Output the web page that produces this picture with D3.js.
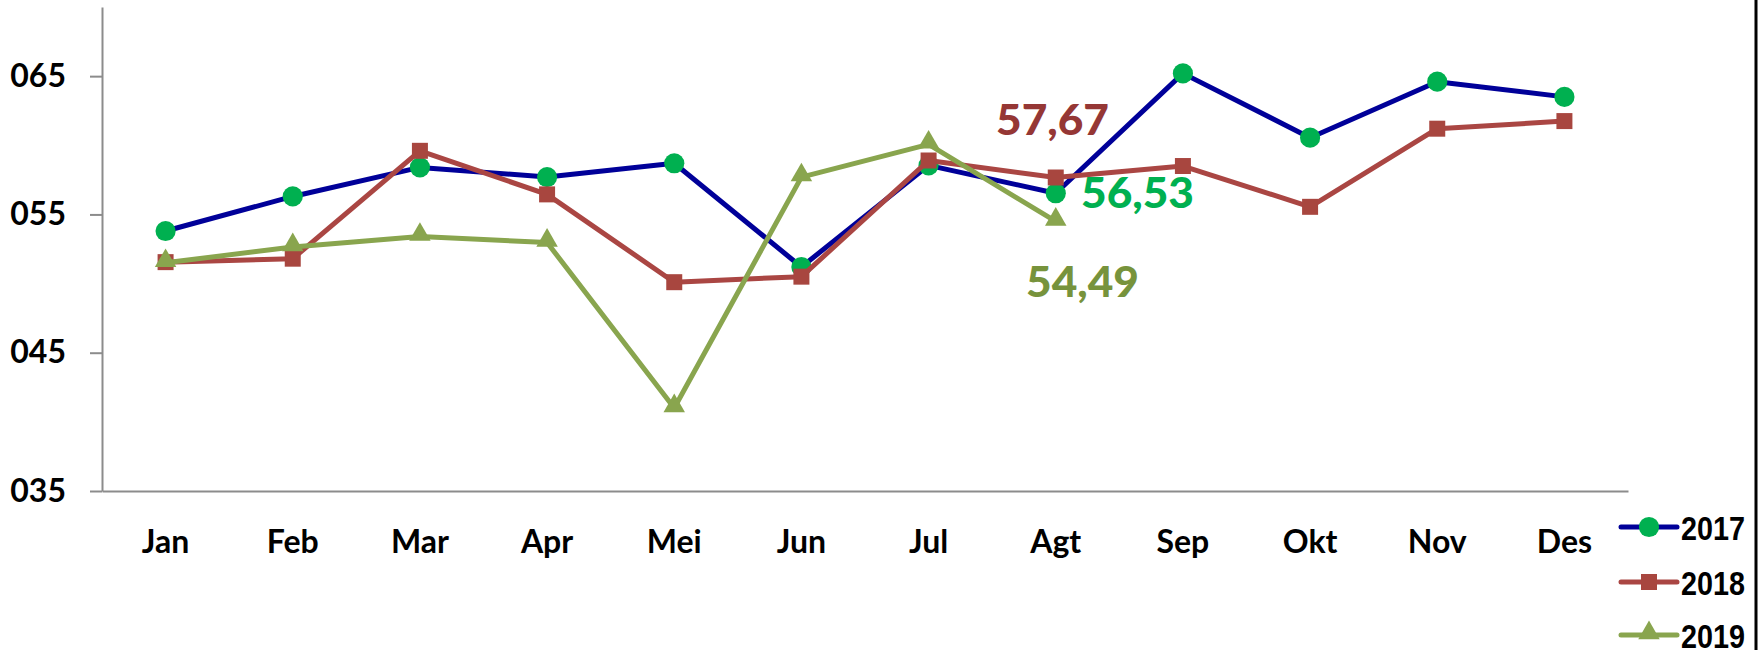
<!DOCTYPE html>
<html>
<head>
<meta charset="utf-8">
<script src="https://cdn.jsdelivr.net/npm/d3@7"></script>
<style>
	body { margin: 0; background: #fff; }
	svg { display: block; }
	.tick text { font-family: Lato, "Open Sans", sans-serif; font-weight: bold; fill: #000; }
	.legend text { font-family: "Liberation Sans Narrow", "Liberation Sans", Arial, sans-serif; font-weight: bold; }
	.label { font-family: Lato, "Open Sans", sans-serif; font-weight: 900; }
</style>
</head>
<body>
<div id="chart"></div>
<script>
// data
const months = ['Jan', 'Feb', 'Mar', 'Apr', 'Mei', 'Jun', 'Jul', 'Agt', 'Sep', 'Okt', 'Nov', 'Des'];
const years = ['2017', '2018', '2019'];
const values2017 = [53.8, 56.3, 58.4, 57.7, 58.7, 51.2, 58.55, 56.53, 65.2, 60.55, 64.6, 63.5];
const values2018 = [51.55, 51.8, 59.6, 56.45, 50.1, 50.5, 58.9, 57.67, 58.5, 55.55, 61.2, 61.75];
const values2019 = [51.5, 52.65, 53.4, 52.97, 41.0, 57.7, 60.07, 54.49];
const yTicks = [35, 45, 55, 65];
// labels shown on the Agt points
const agtLabels = ['56,53', '57,67', '54,49'];

const width = 1763;
const height = 650;
const margin = {top: 7, right: 135, bottom: 159, left: 102};

const series = [
	{key: years[0], values: values2017, line: '#000099', marker: '#00b050', symbol: d3.symbolCircle, size: 320, label: agtLabels[0], labelColor: '#00b050', lx: 1081, ly: 208},
	{key: years[1], values: values2018, line: '#aa4643', marker: '#a8463f', symbol: d3.symbolSquare, size: 256, label: agtLabels[1], labelColor: '#953735', lx: 996, ly: 135},
	{key: years[2], values: values2019, line: '#89a54e', marker: '#89a54e', symbol: d3.symbolTriangle, size: 200, label: agtLabels[2], labelColor: '#77933c', lx: 1026, ly: 297}
];

const svg = d3.select('#chart').append('svg')
	.attr('width', width)
	.attr('height', height);

const xScale = d3.scaleBand()
	.domain(months)
	.range([margin.left, width - margin.right]);
const yScale = d3.scaleLinear()
	.domain([35, 70])
	.range([height - margin.bottom, margin.top]);

const xPos = i => xScale(months[i]) + xScale.bandwidth() / 2;

// y axis
const yAxis = svg.append('g')
	.attr('transform', `translate(${margin.left},0)`)
	.call(d3.axisLeft(yScale)
		.tickValues(yTicks)
		.tickFormat(d3.format('03d'))
		.tickSize(12)
		.tickPadding(24)
		.tickSizeOuter(0));
yAxis.selectAll('path, line').attr('stroke', '#8c8c8c').attr('stroke-width', 2);
yAxis.selectAll('text').style('font-size', '32px');

// x axis
const xAxis = svg.append('g')
	.attr('transform', `translate(0,${yScale(35)})`)
	.call(d3.axisBottom(xScale).tickSize(0).tickSizeOuter(0));
xAxis.select('.domain').attr('stroke', '#8c8c8c').attr('stroke-width', 2);
xAxis.selectAll('text')
	.style('font-size', '32px')
	.attr('y', 62)
	.attr('dy', 0);

// lines and markers
const lineGenerator = d3.line()
	.x((d, i) => xPos(i))
	.y(d => yScale(d));

const groups = svg.selectAll('.series')
	.data(series)
	.enter()
	.append('g')
	.attr('class', 'series');

groups.append('path')
	.attr('fill', 'none')
	.attr('stroke', d => d.line)
	.attr('stroke-width', 5)
	.attr('stroke-linejoin', 'round')
	.attr('d', d => lineGenerator(d.values));

groups.each(function(s) {
	d3.select(this).selectAll('.marker')
		.data(s.values)
		.enter()
		.append('path')
		.attr('class', 'marker')
		.attr('fill', s.marker)
		.attr('transform', (d, i) => `translate(${xPos(i)},${yScale(d) + (s.symbol === d3.symbolTriangle ? -2 : 0)})`)
		.attr('d', d3.symbol(s.symbol, s.size));
});

// value labels for Agt
svg.selectAll('.label')
	.data(series)
	.enter()
	.append('text')
	.attr('class', 'label')
	.attr('x', d => d.lx)
	.attr('y', d => d.ly)
	.attr('fill', d => d.labelColor)
	.attr('textLength', 113)
	.attr('lengthAdjust', 'spacingAndGlyphs')
	.style('font-size', '42px')
	.text(d => d.label);

// legend
const legend = svg.append('g')
	.attr('class', 'legend')
	.attr('transform', 'translate(1621,0)');

const legendRows = [527, 582, 635];
const item = legend.selectAll('.item')
	.data(series)
	.enter()
	.append('g')
	.attr('class', 'item')
	.attr('transform', (d, i) => `translate(0,${legendRows[i]})`);

item.append('line')
	.attr('x1', 0)
	.attr('x2', 56)
	.attr('stroke', d => d.line)
	.attr('stroke-width', 5)
	.attr('stroke-linecap', 'round');

item.append('path')
	.attr('transform', d => `translate(28,${d.symbol === d3.symbolTriangle ? -2 : 0})`)
	.attr('fill', d => d.marker)
	.attr('d', d => d3.symbol(d.symbol, d.size)());

item.append('text')
	.attr('x', 60)
	.attr('y', 13)
	.attr('textLength', 64)
	.attr('lengthAdjust', 'spacingAndGlyphs')
	.style('font-size', '34px')
	.text(d => d.key);

// right border
svg.append('line')
	.attr('x1', 1756)
	.attr('x2', 1756)
	.attr('y1', 0)
	.attr('y2', height)
	.attr('stroke', '#000')
	.attr('stroke-width', 3);
</script>
</body>
</html>
